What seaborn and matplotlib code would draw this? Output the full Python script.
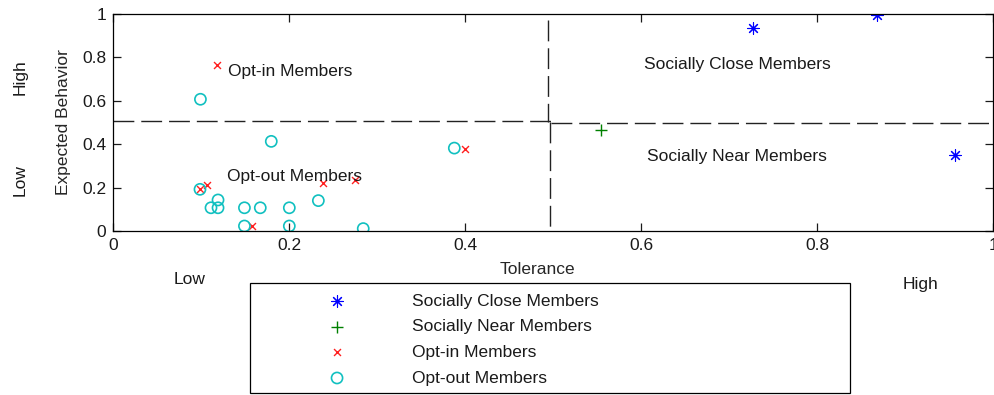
import matplotlib
matplotlib.use("Agg")
import matplotlib.pyplot as plt
from matplotlib.patches import Rectangle
import seaborn as sns

# Member groups on the tolerance / expected-behaviour plane
close_tol = [0.727, 0.868, 0.956]
close_beh = [0.934, 0.995, 0.350]

near_tol = [0.554]
near_beh = [0.465]

optin_tol = [0.1175, 0.0985, 0.107, 0.158, 0.238, 0.275, 0.400]
optin_beh = [0.765, 0.192, 0.210, 0.023, 0.223, 0.235, 0.376]

optout_tol = [0.099, 0.1795, 0.3875, 0.0985, 0.111, 0.119, 0.119, 0.149,
              0.167, 0.200, 0.233, 0.149, 0.200, 0.284]
optout_beh = [0.607, 0.413, 0.382, 0.192, 0.107, 0.143, 0.107, 0.107,
              0.107, 0.107, 0.140, 0.023, 0.023, 0.011]

ticks = [0, 0.2, 0.4, 0.6, 0.8, 1]
tick_labels = ["0", "0.2", "0.4", "0.6", "0.8", "1"]

region_labels = ["Opt-in Members", "Opt-out Members",
                 "Socially Close Members", "Socially Near Members"]
region_pos = [(0.130, 0.737), (0.129, 0.253), (0.603, 0.765), (0.606, 0.341)]

FS = 12.5
sns.set_style("ticks")
plt.rcParams["font.family"] = ["Liberation Sans", "DejaVu Sans"]
plt.rcParams.update({
    "xtick.direction": "in", "ytick.direction": "in",
    "xtick.top": True, "ytick.right": True,
    "xtick.major.size": 6, "ytick.major.size": 6,
    "axes.linewidth": 0.9, "xtick.major.width": 0.9, "ytick.major.width": 0.9,
    "font.size": FS, "text.color": "#1a1a1a",
    "xtick.color": "#1a1a1a", "ytick.color": "#1a1a1a",
})

fig = plt.figure(figsize=(9.94, 3.95), dpi=100)
ax = fig.add_axes([0.114, 0.4152, 0.8853, 0.5494])

asterisk = (8, 2, 0)
sns.scatterplot(x=close_tol, y=close_beh, marker=asterisk, s=70, color="#0000ff",
                linewidth=0.8, ax=ax, label="Socially Close Members")
sns.scatterplot(x=near_tol, y=near_beh, marker="+", s=80, color="#008000",
                linewidth=1.0, ax=ax, label="Socially Near Members")
sns.scatterplot(x=optin_tol, y=optin_beh, marker="x", s=25, color="#ff2020",
                linewidth=1.0, ax=ax, label="Opt-in Members")
sns.scatterplot(x=optout_tol, y=optout_beh, marker="o", s=64,
                facecolor="none", edgecolor="#11c0c0", linewidth=1.2, ax=ax,
                label="Opt-out Members")

# Quadrant dividers
dash = (0, (15, 5))
ax.plot([0, 0.497], [0.505, 0.505], color="#222222", lw=1.0, linestyle=dash)
ax.plot([0.497, 1], [0.499, 0.499], color="#222222", lw=1.0, linestyle=dash)
ax.plot([0.494, 0.494], [0.97, 0.5], color="#222222", lw=1.0, linestyle=dash)
ax.plot([0.496, 0.496], [0.5, 0.0], color="#222222", lw=1.0, linestyle=dash)

for txt, (tx, ty) in zip(region_labels, region_pos):
    ax.text(tx, ty, txt, ha="left", va="center", fontsize=FS)

ax.set_xlim(0, 1)
ax.set_ylim(0, 1)
ax.set_xticks(ticks)
ax.set_xticklabels(tick_labels)
ax.set_yticks(ticks)
ax.set_yticklabels(tick_labels)
ax.tick_params(labelsize=FS, pad=5)
for sp in ax.spines.values():
    sp.set_visible(True)
    sp.set_color("black")

ax.set_xlabel("Tolerance", fontsize=FS)
ax.xaxis.set_label_coords(0.4815, -0.145)
ax.set_ylabel("Expected Behavior", fontsize=FS)
ax.yaxis.set_label_coords(-0.048, 0.5)

# Level annotations outside the axes
fig.text(20 / 994, 1 - 77 / 395, "High", rotation=90, ha="center", va="center", fontsize=FS)
fig.text(20 / 994, 1 - 180 / 395, "Low", rotation=90, ha="center", va="center", fontsize=FS)
fig.text(190 / 994, 1 - 280 / 395, "Low", ha="center", va="center", fontsize=FS)
fig.text(920 / 994, 1 - 284 / 395, "High", ha="center", va="center", fontsize=FS)

# Legend inside a boxed panel below the axes
handles, labels = ax.get_legend_handles_labels()
ax.get_legend().remove()
fig.patches.append(Rectangle((250 / 994, 2 / 395), 600 / 994, 110 / 395,
                             transform=fig.transFigure, fill=False,
                             edgecolor="black", linewidth=0.9))
fig.legend(handles, labels, loc="upper left",
           bbox_to_anchor=(311 / 994, 1 - 285 / 395), frameon=False,
           scatterpoints=1, handlelength=2.0, handletextpad=3.34,
           labelspacing=0.6, fontsize=FS, borderpad=0)

fig.savefig("out.png", dpi=100)
